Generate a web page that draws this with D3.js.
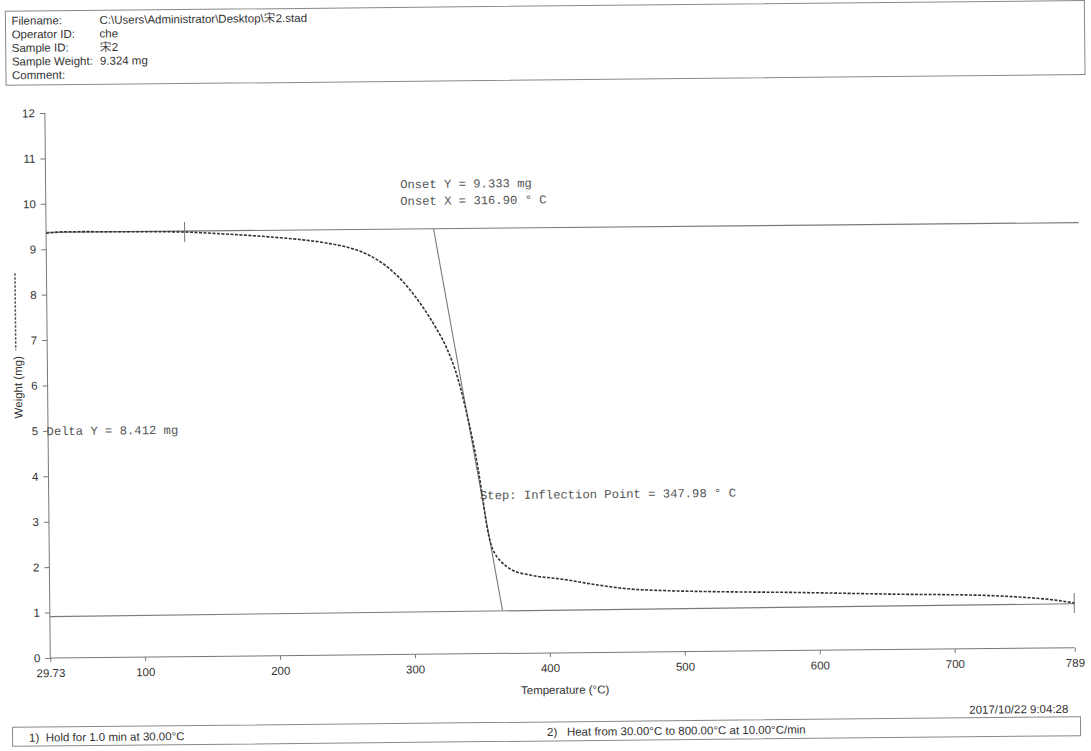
<!DOCTYPE html>
<html>
<head>
<meta charset="utf-8">
<script src="https://cdn.jsdelivr.net/npm/d3@7/dist/d3.min.js"></script>
<style>
  html, body { margin: 0; padding: 0; background: #fff; }
  svg { display: block; }
  .hdr { font-family: "Liberation Sans", Arial, sans-serif; font-size: 11.5px; fill: #333; }
  .ann { font-family: "Liberation Mono", monospace; font-size: 12.2px; fill: #555; }
  .axis text { font-family: "Liberation Sans", Arial, sans-serif; font-size: 11.5px; fill: #333; }
  .axis path, .axis line { stroke: #777; }
</style>
</head>
<body>
<script>
// ---- data ----
const temps   = [29.73, 45, 80, 130, 160, 200, 220, 240, 255, 270, 285, 297, 308, 318, 326, 333, 339, 344, 348, 351, 354, 357, 360, 364, 373, 386, 410, 435, 460, 484, 528, 580, 654, 728, 752, 778, 789];
const weights = [9.35, 9.38, 9.37, 9.35, 9.30, 9.21, 9.15, 9.06, 8.96, 8.78, 8.47, 8.10, 7.66, 7.18, 6.72, 6.15, 5.45, 4.75, 4.10, 3.50, 2.85, 2.42, 2.20, 2.04, 1.83, 1.72, 1.62, 1.49, 1.39, 1.35, 1.31, 1.28, 1.22, 1.165, 1.12, 1.04, 0.985];

const upperBaselineT = [29.73, 795];
const upperBaselineW = [9.37, 9.36];
const tangentT = [316.9, 365.2];
const tangentW = [9.365, 0.95];
const lowerBaselineT = [29.73, 789];
const lowerBaselineW = [0.91, 0.97];
const markerT = [132.4, 789];
const markerW = [9.35, 0.985];

const xTickValues = [29.73, 100, 200, 300, 400, 500, 600, 700, 789];
const yTickValues = [0, 1, 2, 3, 4, 5, 6, 7, 8, 9, 10, 11, 12];

const headerLabels = ["Filename:", "Operator ID:", "Sample ID:", "Sample Weight:", "Comment:"];
const headerValues = ["C:\\Users\\Administrator\\Desktop\\宋2.stad", "che", "宋2", "9.324 mg", ""];

const onsetTexts = ["Onset Y = 9.333 mg", "Onset X = 316.90 ° C"];
const deltaText = "Delta Y = 8.412 mg";
const stepText = "Step: Inflection Point = 347.98 ° C";
const stepsNotes = ["1)  Hold for 1.0 min at 30.00°C", "2)   Heat from 30.00°C to 800.00°C at 10.00°C/min"];
const timestamp = "2017/10/22 9:04:28";

// ---- drawing ----
const W = 1091, H = 751;
const svg = d3.select("body").append("svg").attr("width", W).attr("height", H);
svg.append("rect").attr("width", W).attr("height", H).attr("fill", "#fff");
const root = svg.append("g").attr("transform", "rotate(-0.57, 545, 375)");

// header box
root.append("rect").attr("x", 9).attr("y", 6).attr("width", 1079).attr("height", 74)
  .attr("fill", "none").attr("stroke", "#888").attr("stroke-width", 1);
headerLabels.forEach((t, i) => {
  root.append("text").attr("class", "hdr").attr("x", 15).attr("y", 15.5 + i * 13.6)
    .attr("dy", "0.35em").text(t);
  root.append("text").attr("class", "hdr").attr("x", 103).attr("y", 15.5 + i * 13.6)
    .attr("dy", "0.35em").text(headerValues[i]);
});

const x = d3.scaleLinear().domain([29.73, 789]).range([47.5, 1072]);
const y = d3.scaleLinear().domain([0, 12]).range([653, 108]);

// axes
const xAxis = d3.axisBottom(x).tickValues(xTickValues)
  .tickFormat(d => d === 29.73 ? "29.73" : d3.format("d")(d)).tickSize(4).tickPadding(7);
root.append("g").attr("class", "axis").attr("transform", `translate(0,${y(0)})`).call(xAxis)
  .call(g => g.select(".domain").attr("d", `M${x(29.73)},0H${x(789)}`));
const yAxis = d3.axisLeft(y).tickValues(yTickValues).tickSize(5).tickPadding(5);
root.append("g").attr("class", "axis").attr("transform", `translate(${x(29.73)},0)`).call(yAxis)
  .call(g => g.select(".domain").attr("d", `M0,${y(0)}V${y(12)}`));

root.append("text").attr("class", "hdr").attr("x", 562).attr("y", 690).attr("dy", "0.35em")
  .attr("text-anchor", "middle").text("Temperature (°C)");
root.append("text").attr("class", "hdr").attr("transform", "translate(18,382) rotate(-90)")
  .attr("text-anchor", "middle").attr("dy", "0.35em").text("Weight (mg)");
root.append("line").attr("x1", 16).attr("x2", 16).attr("y1", 268).attr("y2", 345)
  .attr("stroke", "#555").attr("stroke-width", 1.5).attr("stroke-dasharray", "2.5,1.5");

// analysis lines
const seg = (ts, ws) => d3.line().x((d, i) => x(ts[i])).y((d, i) => y(ws[i]))(ts);
[[upperBaselineT, upperBaselineW], [tangentT, tangentW], [lowerBaselineT, lowerBaselineW]].forEach(([ts, ws]) => {
  root.append("path").attr("d", seg(ts, ws)).attr("fill", "none")
    .attr("stroke", "#7a7a7a").attr("stroke-width", 1.1);
});
markerT.forEach((t, i) => {
  root.append("line").attr("x1", x(t)).attr("x2", x(t))
    .attr("y1", y(markerW[i]) - 10).attr("y2", y(markerW[i]) + 10)
    .attr("stroke", "#777").attr("stroke-width", 1);
});

// weight curve
const curve = d3.line().x((d, i) => x(temps[i])).y((d, i) => y(weights[i])).curve(d3.curveMonotoneX);
root.append("path").attr("d", curve(temps)).attr("fill", "none")
  .attr("stroke", "#333").attr("stroke-width", 1.6).attr("stroke-dasharray", "3,1.5");

// annotations
onsetTexts.forEach((t, i) => {
  root.append("text").attr("class", "ann").attr("x", 402).attr("y", 182.6 + i * 16.7)
    .attr("dy", "0.35em").text(t);
});
root.append("text").attr("class", "ann").attr("x", 46).attr("y", y(5)).attr("dy", "0.35em").text(deltaText);
root.append("text").attr("class", "ann").attr("x", 478.8).attr("y", 494.4).attr("dy", "0.35em").text(stepText);

// footer
root.append("text").attr("class", "hdr").attr("x", 1065).attr("y", 714).attr("dy", "0.35em")
  .attr("text-anchor", "end").text(timestamp);
root.append("rect").attr("x", 9).attr("y", 722).attr("width", 1068).attr("height", 19)
  .attr("fill", "none").attr("stroke", "#888").attr("stroke-width", 1);
root.append("text").attr("class", "hdr").attr("x", 25.5).attr("y", 732.5).attr("dy", "0.35em")
  .style("white-space", "pre").text(stepsNotes[0]);
root.append("text").attr("class", "hdr").attr("x", 543.5).attr("y", 732).attr("dy", "0.35em")
  .style("white-space", "pre").text(stepsNotes[1]);
</script>
</body>
</html>
